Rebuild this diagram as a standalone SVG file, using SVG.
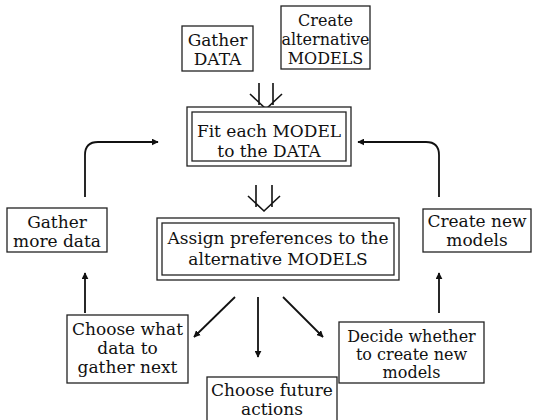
<svg xmlns="http://www.w3.org/2000/svg" width="533" height="420" viewBox="0 0 533 420">
<style>
text{font-family:"DejaVu Serif","Liberation Serif",serif;font-size:17px;fill:#111;text-anchor:middle}
.s{font-size:16px}
.b{fill:#fff;stroke:#222;stroke-width:1.3}
.c{fill:none;stroke:#111;stroke-width:1.8}
.d{fill:none;stroke:#111;stroke-width:1.6}
</style>
<defs>
<marker id="ah" viewBox="0 0 10 10" refX="9" refY="5" markerWidth="7" markerHeight="7" markerUnits="userSpaceOnUse" orient="auto"><path d="M0,0L10,5L0,10z" fill="#111"/></marker>
</defs>
<rect width="533" height="420" fill="#fff"/>
<g id="connectors">
<path class="d" d="M259,83V105M273,83V105M250,94L266,109L282,94"/>
<path class="d" d="M256,185V207M272,185V207M248,196L264,211L280,196"/>
<path class="c" d="M85,197V155Q85,142 98,142H158" marker-end="url(#ah)"/>
<path class="c" d="M439,197V155Q439,142 426,142H358" marker-end="url(#ah)"/>
<path class="c" d="M85,313V273" marker-end="url(#ah)"/>
<path class="c" d="M439,313V273" marker-end="url(#ah)"/>
<path class="c" d="M235,297L194,337" marker-end="url(#ah)"/>
<path class="c" d="M258,297V357" marker-end="url(#ah)"/>
<path class="c" d="M283,297L323,337" marker-end="url(#ah)"/>
</g>
<g id="gather-data"><rect class="b" x="182" y="26" width="71" height="45"/><text x="217.500" y="46">Gather</text><text x="217.500" y="65">DATA</text></g>
<g id="create-models"><rect class="b" x="281" y="6" width="89" height="63"/><text class="s" x="325.500" y="26">Create</text><text class="s" x="325.500" y="45">alternative</text><text class="s" x="325.500" y="64">MODELS</text></g>
<g id="fit"><rect class="b" x="187" y="107" width="164" height="59"/><rect class="b" x="192" y="112" width="154" height="49"/><text x="269" y="137">Fit each MODEL</text><text x="269" y="157">to the DATA</text></g>
<g id="assign"><rect class="b" x="157" y="218" width="242" height="62"/><rect class="b" x="162" y="223" width="232" height="52"/><text x="278" y="244">Assign preferences to the</text><text x="278" y="265">alternative MODELS</text></g>
<g id="gather-more"><rect class="b" x="7" y="208" width="100" height="44"/><text x="57" y="228">Gather</text><text x="57" y="247">more data</text></g>
<g id="create-new"><rect class="b" x="423" y="209" width="108" height="43"/><text x="477" y="227">Create new</text><text x="477" y="246">models</text></g>
<g id="choose-data"><rect class="b" x="67" y="315" width="121" height="68"/><text x="127.500" y="335">Choose what</text><text x="127.500" y="354">data to</text><text x="127.500" y="373">gather next</text></g>
<g id="choose-future"><rect class="b" x="207" y="377" width="130" height="45"/><text x="272" y="396">Choose future</text><text x="272" y="415">actions</text></g>
<g id="decide"><rect class="b" x="339" y="322" width="145" height="61"/><text class="s" x="411.500" y="342">Decide whether</text><text class="s" x="411.500" y="360">to create new</text><text class="s" x="411.500" y="378">models</text></g>
</svg>
